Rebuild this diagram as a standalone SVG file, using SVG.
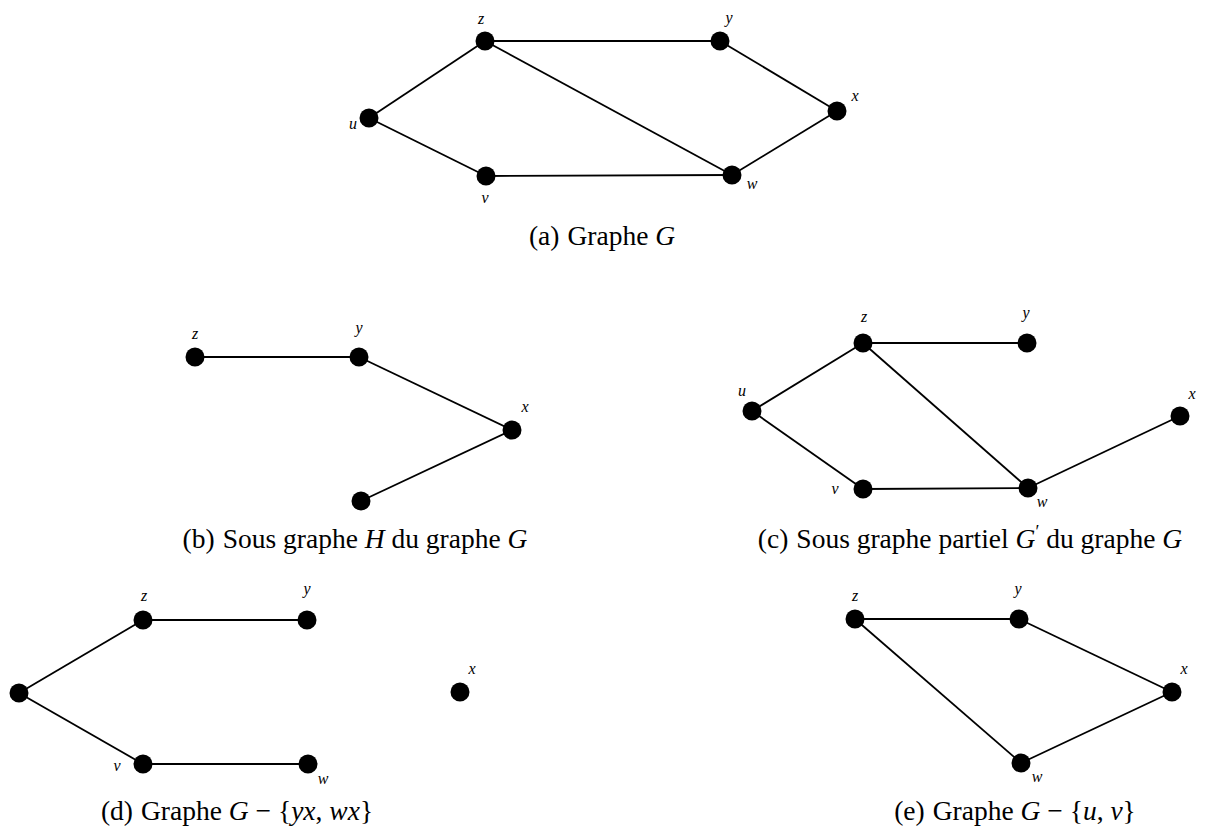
<svg xmlns="http://www.w3.org/2000/svg" width="1207" height="832" viewBox="0 0 1207 832">
<style>
.e{stroke:#000;stroke-width:1.8;fill:none}
.n{fill:#000}
.l{font-family:"Liberation Serif",serif;font-style:italic;font-size:16px;text-anchor:middle;fill:#000}
.c{font-family:"Liberation Serif",serif;font-size:27.5px;text-anchor:middle;fill:#000}
.i{font-style:italic}
</style>
<rect width="1207" height="832" fill="#fff"/>
<g id="connectors">
<!-- (a) -->
<line class="e" x1="485" y1="41" x2="720" y2="41"/>
<line class="e" x1="485" y1="41" x2="732" y2="175"/>
<line class="e" x1="485" y1="41" x2="369" y2="118"/>
<line class="e" x1="369" y1="118" x2="486" y2="176"/>
<line class="e" x1="486" y1="176" x2="732" y2="175"/>
<line class="e" x1="720" y1="41" x2="837" y2="111"/>
<line class="e" x1="837" y1="111" x2="732" y2="175"/>
<!-- (b) -->
<line class="e" x1="195" y1="357" x2="359" y2="357"/>
<line class="e" x1="359" y1="357" x2="512" y2="430"/>
<line class="e" x1="512" y1="430" x2="361" y2="501"/>
<!-- (c) -->
<line class="e" x1="752" y1="411" x2="863" y2="343"/>
<line class="e" x1="863" y1="343" x2="1027" y2="343"/>
<line class="e" x1="863" y1="343" x2="1028" y2="488"/>
<line class="e" x1="752" y1="411" x2="863" y2="489"/>
<line class="e" x1="863" y1="489" x2="1028" y2="488"/>
<line class="e" x1="1028" y1="488" x2="1180" y2="416"/>
<!-- (d) -->
<line class="e" x1="19" y1="693" x2="143" y2="620"/>
<line class="e" x1="143" y1="620" x2="307" y2="620"/>
<line class="e" x1="19" y1="693" x2="143" y2="764"/>
<line class="e" x1="143" y1="764" x2="308" y2="764"/>
<!-- (e) -->
<line class="e" x1="855" y1="619" x2="1019" y2="619"/>
<line class="e" x1="1019" y1="619" x2="1172" y2="692"/>
<line class="e" x1="1172" y1="692" x2="1021" y2="763"/>
<line class="e" x1="855" y1="619" x2="1021" y2="763"/>
</g>
<g id="graph-a">
<g id="a-z"><circle class="n" cx="485" cy="41" r="9.5"/><text class="l" x="481" y="24">z</text></g>
<g id="a-y"><circle class="n" cx="720" cy="41" r="9.5"/><text class="l" x="729" y="23">y</text></g>
<g id="a-x"><circle class="n" cx="837" cy="111" r="9.5"/><text class="l" x="855" y="101">x</text></g>
<g id="a-u"><circle class="n" cx="369" cy="118" r="9.5"/><text class="l" x="353" y="129">u</text></g>
<g id="a-v"><circle class="n" cx="486" cy="176" r="9.5"/><text class="l" x="485" y="203">v</text></g>
<g id="a-w"><circle class="n" cx="732" cy="175" r="9.5"/><text class="l" x="752" y="189">w</text></g>
<text id="caption-a" class="c" x="602" y="245">(a)<tspan dx="8">Graphe </tspan><tspan class="i">G</tspan></text>
</g>
<g id="graph-b">
<g id="b-z"><circle class="n" cx="195" cy="357" r="9.5"/><text class="l" x="195" y="339">z</text></g>
<g id="b-y"><circle class="n" cx="359" cy="357" r="9.5"/><text class="l" x="359" y="333">y</text></g>
<g id="b-x"><circle class="n" cx="512" cy="430" r="9.5"/><text class="l" x="525" y="412">x</text></g>
<g id="b-w"><circle class="n" cx="361" cy="501" r="9.5"/></g>
<text id="caption-b" class="c" x="355" y="548">(b)<tspan dx="8">Sous graphe </tspan><tspan class="i">H</tspan> du graphe <tspan class="i">G</tspan></text>
</g>
<g id="graph-c">
<g id="c-z"><circle class="n" cx="863" cy="343" r="9.5"/><text class="l" x="864" y="322">z</text></g>
<g id="c-y"><circle class="n" cx="1027" cy="343" r="9.5"/><text class="l" x="1026" y="318">y</text></g>
<g id="c-u"><circle class="n" cx="752" cy="411" r="9.5"/><text class="l" x="742" y="396">u</text></g>
<g id="c-x"><circle class="n" cx="1180" cy="416" r="9.5"/><text class="l" x="1192" y="399">x</text></g>
<g id="c-v"><circle class="n" cx="863" cy="489" r="9.5"/><text class="l" x="835" y="494">v</text></g>
<g id="c-w"><circle class="n" cx="1028" cy="488" r="9.5"/><text class="l" x="1042" y="507">w</text></g>
<text id="caption-c" class="c" x="970" y="548">(c)<tspan dx="8">Sous graphe partiel </tspan><tspan class="i">G</tspan><tspan font-size="18" dy="-10">′</tspan><tspan dy="10"> du graphe </tspan><tspan class="i">G</tspan></text>
</g>
<g id="graph-d">
<g id="d-u"><circle class="n" cx="19" cy="693" r="9.5"/></g>
<g id="d-z"><circle class="n" cx="143" cy="620" r="9.5"/><text class="l" x="144" y="601">z</text></g>
<g id="d-y"><circle class="n" cx="307" cy="620" r="9.5"/><text class="l" x="307" y="594">y</text></g>
<g id="d-x"><circle class="n" cx="460" cy="692" r="9.5"/><text class="l" x="472" y="674">x</text></g>
<g id="d-v"><circle class="n" cx="143" cy="764" r="9.5"/><text class="l" x="117" y="771">v</text></g>
<g id="d-w"><circle class="n" cx="308" cy="764" r="9.5"/><text class="l" x="323" y="784" font-style="normal">w</text></g>
<text id="caption-d" class="c" x="237" y="820">(d)<tspan dx="8">Graphe </tspan><tspan class="i">G</tspan> − {<tspan class="i">yx</tspan>, <tspan class="i">wx</tspan>}</text>
</g>
<g id="graph-e">
<g id="e-z"><circle class="n" cx="855" cy="619" r="9.5"/><text class="l" x="855" y="601">z</text></g>
<g id="e-y"><circle class="n" cx="1019" cy="619" r="9.5"/><text class="l" x="1018" y="594">y</text></g>
<g id="e-x"><circle class="n" cx="1172" cy="692" r="9.5"/><text class="l" x="1184" y="674">x</text></g>
<g id="e-w"><circle class="n" cx="1021" cy="763" r="9.5"/><text class="l" x="1037" y="782">w</text></g>
<text id="caption-e" class="c" x="1015" y="820">(e)<tspan dx="8">Graphe </tspan><tspan class="i">G</tspan> − {<tspan class="i">u</tspan>, <tspan class="i">v</tspan>}</text>
</g>
</svg>
